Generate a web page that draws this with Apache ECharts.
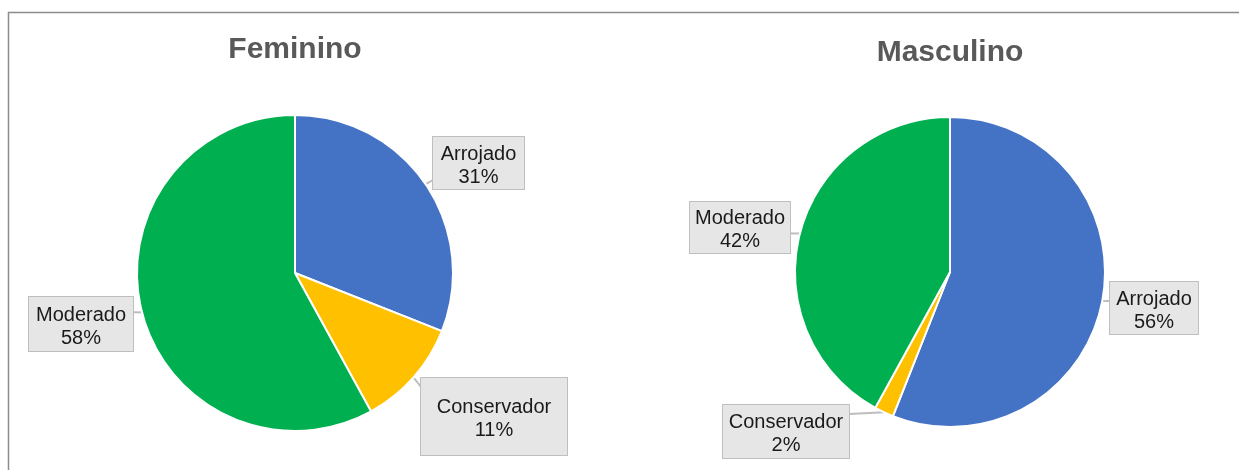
<!DOCTYPE html>
<html>
<head>
<meta charset="utf-8">
<script src="https://cdn.jsdelivr.net/npm/echarts@6/dist/echarts.min.js"></script>
<style>
  html, body { margin: 0; padding: 0; background: #ffffff; }
  #chart { width: 1239px; height: 470px; }
</style>
</head>
<body>
<div id="chart"></div>
<script>
// Investor profile by gender
const categories = ['Arrojado', 'Conservador', 'Moderado'];
const feminino = [31, 11, 58];
const masculino = [56, 2, 42];
const titles = ['Feminino', 'Masculino'];

const colors = ['#4472C4', '#FFC000', '#00B050'];

// Callout boxes: left, top, width, height (pixels), per pie and category
const calloutBoxes = [
  { Arrojado: [433, 137, 91, 52], Conservador: [421, 378, 146, 77], Moderado: [29, 297, 104, 54] },
  { Arrojado: [1110, 282, 88, 52], Conservador: [723, 405, 126, 53], Moderado: [690, 202, 100, 51] }
];
const pieCenters = [[295, 273], [950, 272]];
const pieRadii = [158, 155];
const titleCenters = [[295, 50], [950, 53]];

const LINE_H = 23;
const TEXT_SHIFT = 2.5;
const CORNER_INSET = 9;

// Point on the callout box border closest to the pointer tip, kept off the corners
function attachPoint(tip, b) {
  const x0 = b[0], y0 = b[1], x1 = b[0] + b[2], y1 = b[1] + b[3];
  let x = Math.min(Math.max(tip[0], x0 + CORNER_INSET), x1 - CORNER_INSET);
  let y = Math.min(Math.max(tip[1], y0 + CORNER_INSET), y1 - CORNER_INSET);
  const dl = Math.abs(tip[0] - x0), dr = Math.abs(tip[0] - x1);
  const dt = Math.abs(tip[1] - y0), db = Math.abs(tip[1] - y1);
  const outsideX = tip[0] < x0 || tip[0] > x1;
  const outsideY = tip[1] < y0 || tip[1] > y1;
  if (outsideX && (!outsideY || Math.min(dl, dr) >= Math.min(dt, db))) {
    x = tip[0] < x0 ? x0 : x1;
  } else {
    y = tip[1] < y0 ? y0 : y1;
  }
  return [x, y];
}

function buildSeries(idx, values) {
  return {
    type: 'pie',
    name: titles[idx],
    center: pieCenters[idx],
    radius: pieRadii[idx],
    startAngle: 90,
    clockwise: true,
    animation: false,
    avoidLabelOverlap: false,
    itemStyle: { borderColor: '#ffffff', borderWidth: 2 },
    label: {
      show: true,
      position: 'outside',
      formatter: '{b}\n{c}%',
      fontFamily: 'Liberation Sans, Arial, sans-serif',
      fontSize: 20,
      lineHeight: LINE_H,
      color: '#1a1a1a',
      backgroundColor: '#e6e6e6',
      borderColor: '#bfbfbf',
      borderWidth: 1
    },
    labelLine: {
      show: true,
      length: 4,
      length2: 4,
      lineStyle: { color: '#bdbdbd', width: 2 }
    },
    labelLayout: function (params) {
      const name = categories[params.dataIndex];
      const b = calloutBoxes[idx][name];
      const out = {
        x: b[0] + b[2] / 2,
        y: b[1],
        align: 'center',
        verticalAlign: 'top'
      };
      if (params.labelLinePoints && params.labelLinePoints.length) {
        const tip = params.labelLinePoints[0];
        const end = attachPoint(tip, b);
        out.labelLinePoints = [tip, end, end];
      }
      return out;
    },
    data: categories.map(function (c, i) {
      const b = calloutBoxes[idx][c];
      const pv = Math.max(0, (b[3] - 2 * LINE_H) / 2);
      return {
        name: c,
        value: values[i],
        itemStyle: { color: colors[i] },
        label: { width: b[2], padding: [pv + TEXT_SHIFT, 0, pv - TEXT_SHIFT, 0] }
      };
    })
  };
}

const chart = echarts.init(document.getElementById('chart'), null, { renderer: 'canvas' });

chart.setOption({
  backgroundColor: '#ffffff',
  animation: false,
  title: titles.map(function (t, i) {
    return {
      text: t,
      left: titleCenters[i][0],
      top: titleCenters[i][1],
      padding: 0,
      textAlign: 'center',
      textVerticalAlign: 'middle',
      textStyle: {
        fontFamily: 'Liberation Sans, Arial, sans-serif',
        fontSize: 30,
        fontWeight: 'bold',
        color: '#595959'
      }
    };
  }),
  graphic: [
    {
      type: 'polyline',
      silent: true,
      shape: { points: [[8.5, 470], [8.5, 12.5], [1239, 12.5]] },
      style: { fill: null, stroke: '#8c8c8c', lineWidth: 1.5 }
    }
  ],
  series: [buildSeries(0, feminino), buildSeries(1, masculino)]
});
</script>
</body>
</html>
